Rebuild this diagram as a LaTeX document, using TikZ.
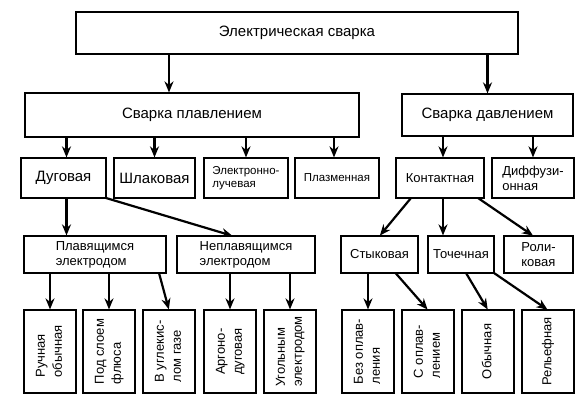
\documentclass[tikz,border=0pt]{standalone}
\usepackage{fontspec}
\setmainfont{Liberation Sans}
\usepackage{graphicx}
\usepackage{tikz}
\usetikzlibrary{positioning,arrows.meta}

\newcommand{\fbig}{\fontsize{15}{18}\selectfont}
\newcommand{\fmid}{\fontsize{13}{15}\selectfont}
\newcommand{\fsml}{\fontsize{11.5}{13}\selectfont}
\newcommand{\fvert}{\fontsize{13}{17}\selectfont}
\newcommand{\vtxt}[1]{\rotatebox{90}{\begin{tabular}{@{}l@{}}#1\end{tabular}}}

\begin{document}
\begin{tikzpicture}[
  x=1pt, y=1pt,
  every node/.style={rectangle, draw, line width=2pt, inner sep=0pt,
                     outer sep=0pt, align=left, font=\fmid},
  row2/.style={minimum height=40pt},
  row3/.style={minimum height=37pt},
  vbox/.style={minimum width=52pt, minimum height=83pt, font=\fvert},
  arrow/.style={-{Stealth[length=11pt,width=9pt]}, line width=2.2pt, shorten >=0.6pt}
]
  \useasboundingbox (0,0) rectangle (581,-406);

  % top levels
  \node (el) [minimum width=442pt, minimum height=42pt, font=\fbig] at (297,-33) {Электрическая сварка};
  \node (plav) [below right=39pt and -51pt of el.south west, anchor=north west,
                minimum width=334pt, minimum height=44pt, font=\fbig] {Сварка плавлением};
  \node (davl) [right=43pt of plav, minimum width=171pt, minimum height=42pt, font=\fbig] {Сварка давлением};

  % second row
  \node (dug) [row2, below right=21pt and -4pt of plav.south west, minimum width=85pt, font=\fbig] {Дуговая};
  \node (shl) [row2, right=8pt of dug, minimum width=81pt, font=\fbig] {Шлаковая};
  \node (elec) [row2, right=9pt of shl, minimum width=84pt, font=\fsml] {Электронно-\\лучевая};
  \node (plaz) [row2, right=7pt of elec, minimum width=84pt, font=\fsml] {Плазменная};
  \node (kont) [row2, right=17pt of plaz, minimum width=88pt] {Контактная};
  \node (diff) [row2, right=8pt of kont, minimum width=82pt] {Диффузи-\\онная};

  % third row
  \node (plavel) [row3, below right=38pt and 3pt of dug.south west, minimum width=142pt] {Плавящимся\\электродом};
  \node (neplav) [row3, right=11pt of plavel, minimum width=138pt] {Неплавящимся\\электродом};
  \node (styk) [row3, right=26pt of neplav, minimum width=77pt] {Стыковая};
  \node (toch) [row3, right=10pt of styk, minimum width=66pt] {Точечная};
  \node (rol) [row3, right=10pt of toch, minimum width=69pt] {Роли-\\ковая};

  % bottom row
  \node (ruch) [vbox, below right=37pt and 0pt of plavel.south west] {\vtxt{Ручная\\обычная}};
  \node (flus) [vbox, right=7pt of ruch] {\vtxt{Под слоем\\флюса}};
  \node (co2) [vbox, right=8pt of flus] {\vtxt{В углекис-\\лом газе}};
  \node (arg) [vbox, right=9pt of co2] {\vtxt{Аргоно-\\дуговая}};
  \node (ugol) [vbox, right=8pt of arg] {\vtxt{Угольным\\электродом}};
  \node (bez) [vbox, right=26pt of ugol] {\vtxt{Без оплав-\\ления}};
  \node (sopl) [vbox, right=8pt of bez] {\vtxt{С оплав-\\лением}};
  \node (obych) [vbox, right=8pt of sopl] {\vtxt{Обычная}};
  \node (rel) [vbox, right=8pt of obych] {\vtxt{Рельефная}};

  \draw[arrow] ([xshift=-128pt]el.south) -- ([xshift=-23pt]plav.north);
  \draw[arrow] (el.south -| davl.north) -- (davl.north);

  \draw[arrow] ([xshift=3pt]plav.south -| dug.north) -- ([xshift=3pt]dug.north);
  \draw[arrow] (plav.south -| shl.north) -- (shl.north);
  \draw[arrow] (plav.south -| elec.north) -- (elec.north);
  \draw[arrow] ([xshift=-3pt]plav.south -| plaz.north) -- ([xshift=-3pt]plaz.north);
  \draw[arrow] ([xshift=3pt]davl.south -| kont.north) -- ([xshift=3pt]kont.north);
  \draw[arrow] (davl.south -| diff.north) -- (diff.north);

  \draw[arrow] ([xshift=3pt]dug.south) -- ([xshift=3pt]dug.south |- plavel.north);
  \draw[arrow] (dug.south east) -- ([xshift=-13pt]neplav.north);
  \draw[arrow] ([xshift=15pt]kont.south west) -- (styk.north);
  \draw[arrow] ([xshift=3pt]kont.south) -- ([xshift=3pt]kont.south |- toch.north);
  \draw[arrow] ([xshift=-6pt]kont.south east) -- ([xshift=-5pt]rol.north);

  \draw[arrow] (plavel.south -| ruch.north) -- (ruch.north);
  \draw[arrow] (plavel.south -| flus.north) -- (flus.north);
  \draw[arrow] ([xshift=-7pt]plavel.south east) -- (co2.north);
  \draw[arrow] (neplav.south -| arg.north) -- (arg.north);
  \draw[arrow] (neplav.south -| ugol.north) -- (ugol.north);
  \draw[arrow] (styk.south -| bez.north) -- (bez.north);
  \draw[arrow] ([xshift=16pt]styk.south) -- (sopl.north);
  \draw[arrow] ([xshift=5pt]toch.south) -- (obych.north);
  \draw[arrow] (toch.south east) -- (rel.north);
\end{tikzpicture}
\end{document}
